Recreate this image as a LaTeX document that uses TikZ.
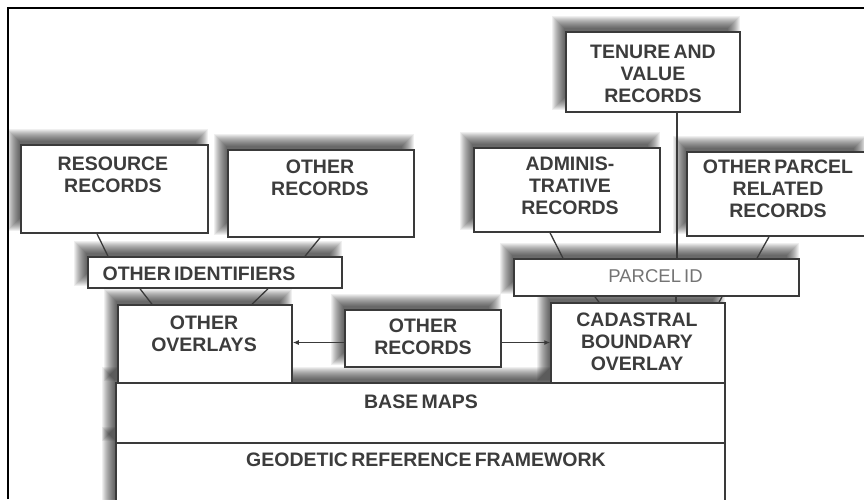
\documentclass[tikz,border=0pt]{standalone}
\usepackage{fontspec}
\setmainfont{Liberation Sans}[WordSpace=0.6]
\usetikzlibrary{arrows.meta}
\definecolor{boxline}{HTML}{3A3A3A}
\definecolor{txt}{HTML}{3C3C3C}
\definecolor{idtxt}{HTML}{747474}
\pgfdeclarelayer{bg}
\pgfdeclarelayer{shade}
\pgfsetlayers{bg,shade,main}

% soft shadow up and to the left of a named box: stacked translucent rectangles
\newcommand\softshadow[1]{%
  \foreach \k in {0,...,12}{%
    \fill[black, opacity=0.062]
      ([xshift={-1pt-\k*1pt}, yshift={3pt+\k*1pt}]#1.north west) rectangle
      ([xshift={-13pt+\k*1pt}, yshift={15pt-\k*1pt}]#1.south east);
  }}

\begin{document}
\begin{tikzpicture}[x=1pt,y=-1pt,
  box/.style={draw=boxline, line width=1.5pt, fill=white, inner sep=0pt},
  lbl/.style={inner sep=0pt, align=center, text=txt,
    font=\fontsize{19.5}{22}\selectfont\bfseries},
  link/.style={draw=boxline, line width=1.3pt},
  arr/.style={link, -{Latex[length=6pt,width=5pt]}}]

\useasboundingbox (0,0) rectangle (864,499);
\begin{pgfonlayer}{bg}
\fill[white] (0,0) rectangle (864,499);
\end{pgfonlayer}

% base layers
\node[box, minimum width=609pt, minimum height=77pt] (geo) at (420.5,481.5) {};
\node[box, minimum width=609pt, minimum height=60pt] (base) at (420.5,413) {};

% overlays and the record box between them
\node[box, minimum width=174pt, minimum height=78pt] (ovl) at (205,344) {};
\node[box, minimum width=174pt, minimum height=80pt] (cad) at (638,343) {};
\node[box, minimum width=156pt, minimum height=57pt] (mrec) at (423,338.5) {};

% identifier bars
\node[box, minimum width=254pt, minimum height=31pt] (oid) at (215,272.5) {};
\node[box, minimum width=285pt, minimum height=37pt] (pid) at (656.5,277.5) {};

% record boxes
\node[box, minimum width=187pt, minimum height=88pt] (res) at (114.5,189) {};
\node[box, minimum width=186pt, minimum height=87pt] (orec) at (321,193.5) {};
\node[box, minimum width=186pt, minimum height=84pt] (adm) at (567,190) {};
\node[box, minimum width=179pt, minimum height=84pt] (opr) at (776.5,194) {};
\node[box, minimum width=174pt, minimum height=80pt] (ten) at (653,72) {};

% labels
\node[lbl] (geo-t) at (426,460) {GEODETIC REFERENCE FRAMEWORK};
\node[lbl] (base-t) at (421,402) {BASE MAPS};
\node[lbl] (ovl-t) at (204,333.5) {OTHER\\OVERLAYS};
\node[lbl] (cad-t) at (637,341.5) {CADASTRAL\\BOUNDARY\\OVERLAY};
\node[lbl] (mrec-t) at (423,337) {OTHER\\RECORDS};
\node[lbl] (oid-t) at (199,274) {OTHER IDENTIFIERS};
\node[lbl, text=idtxt, font=\fontsize{18.5}{22}\selectfont] (pid-t) at (655.5,276) {PARCEL ID};
\node[lbl] (res-t) at (113,174.5) {RESOURCE\\RECORDS};
\node[lbl] (orec-t) at (320,177.5) {OTHER\\RECORDS};
\node[lbl] (adm-t) at (570,186) {ADMINIS-\\TRATIVE\\RECORDS};
\node[lbl] (opr-t) at (778,188.5) {OTHER PARCEL\\RELATED\\RECORDS};
\node[lbl] (ten-t) at (653,74) {TENURE AND\\VALUE\\RECORDS};

% connectors
\draw[link] ([xshift=-17.5pt]res.south) -- ([xshift=-107pt]oid.north);
\draw[link] ([xshift=-1pt]orec.south) -- ([xshift=90pt]oid.north);
\draw[link] ([xshift=-75pt]oid.south) -- ([xshift=-53pt]ovl.north);
\draw[link] ([xshift=53pt]oid.south) -- ([xshift=47pt]ovl.north);
\draw[link] ([xshift=24pt]ten.south) -- ([xshift=20.5pt]pid.north);
\draw[link] ([xshift=-17pt]adm.south) -- ([xshift=-93.5pt]pid.north);
\draw[link] ([xshift=-7.5pt]opr.south) -- ([xshift=100.5pt]pid.north);
\draw[link] ([xshift=-61.5pt]pid.south) -- ([xshift=-39pt]cad.north);
\draw[link] ([xshift=19.5pt]pid.south) -- ([xshift=38pt]cad.north);
\draw[link] ([xshift=65.5pt]pid.south) -- ([xshift=81pt]cad.north);
\draw[arr] ([yshift=-4pt]mrec.west) -- ([yshift=1.5pt]ovl.east);
\draw[arr] ([yshift=-4pt]mrec.east) -- ([yshift=0.5pt]cad.west);

% shadows beneath all boxes
\begin{pgfonlayer}{shade}
\foreach \b in {geo,base,ovl,cad,mrec,oid,pid,res,orec,adm,opr,ten}{\softshadow{\b}}
\end{pgfonlayer}

% outer frame
\draw[line width=1.2pt, black] (8,499) -- (8,8) -- (864,8);
\end{tikzpicture}
\end{document}
